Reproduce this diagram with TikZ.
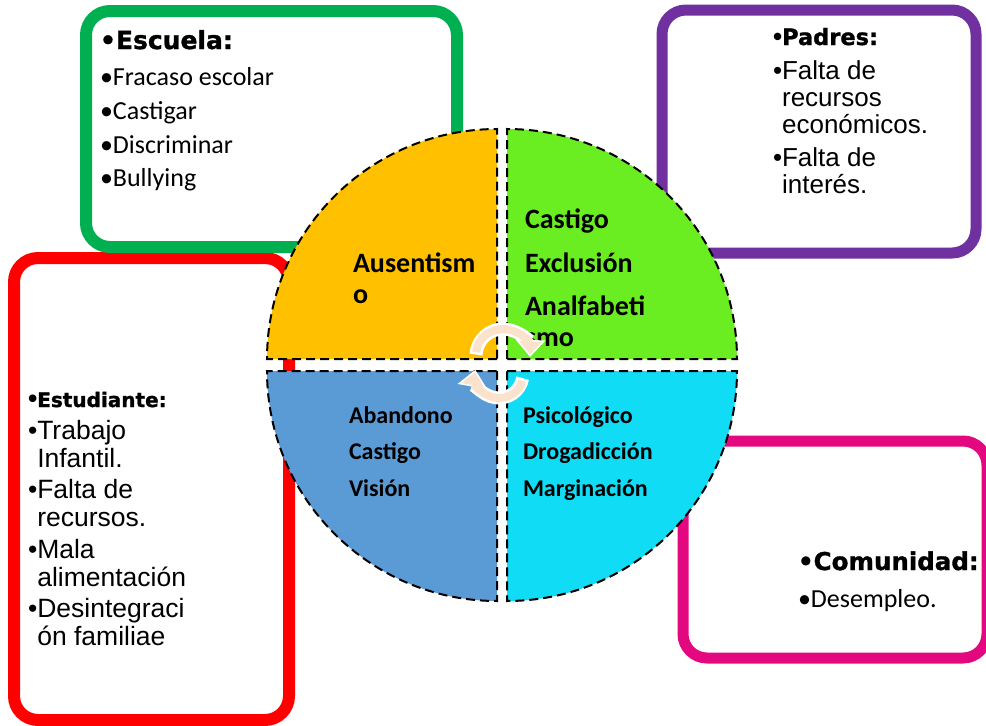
\documentclass[tikz,border=0pt]{standalone}
\usepackage{fontspec}
\setmainfont{Liberation Sans}
\newfontfamily\calfont{Carlito}
\newfontfamily\hdrfont{DejaVu Sans}[BoldFeatures={FakeBold=1.3}]
\usetikzlibrary{arrows.meta,calc}
\definecolor{cgreen}{HTML}{00B050}
\definecolor{cred}{HTML}{FF0000}
\definecolor{cpurple}{HTML}{7030A0}
\definecolor{cpink}{HTML}{E3087F}
\definecolor{qorange}{HTML}{FFC000}
\definecolor{qgreen}{HTML}{6AEE22}
\definecolor{qblue}{HTML}{5B9BD5}
\definecolor{qcyan}{HTML}{10DCF5}
\definecolor{peach}{HTML}{FAE2CC}
\begin{document}
\begin{tikzpicture}[x=1pt,y=-1pt,
  box/.style={draw, rounded corners=24pt, line width=12pt, fill=white, inner sep=0pt, outer sep=0pt},
  quad/.style={draw=black, line width=2pt, dash pattern=on 9pt off 5pt},
  txt/.style={anchor=base west, inner sep=0pt, outer sep=0pt, align=left},
  arrowout/.style={white, line width=13pt, -{Triangle[length=17pt,width=29pt]}},
  arrowin/.style={peach, line width=8pt, shorten >=2.5pt, shorten <=2.5pt, -{Triangle[length=13pt,width=22pt]}},
]
\useasboundingbox (0,0) rectangle (986,726);

% boxes
\node[box, draw=cred, minimum width=275pt, minimum height=462pt] (estbox) at (151.5,489) {};
\node[box, draw=cgreen, minimum width=371pt, minimum height=236pt] (escbox) at (271.5,129) {};
\node[box, draw=cpurple, line width=11pt, minimum width=314pt, minimum height=243pt] (padbox) at (819,131.5) {};
\node[box, draw=cpink, line width=11pt, minimum width=304pt, minimum height=217pt] (combox) at (835,549.5) {};

% quadrants
\path[quad, fill=qorange] (497,359) -- ++(-230,0) arc (180:270:230) -- cycle;
\path[quad, fill=qgreen] (507,359) -- ++(0,-230) arc (270:360:230) -- cycle;
\path[quad, fill=qcyan] (507,371) -- ++(230,0) arc (0:90:230) -- cycle;
\path[quad, fill=qblue] (497,371) -- ++(0,230) arc (90:180:230) -- cycle;

% box texts
\node[txt] (escuela) at (100,49) {\calfont\fontsize{26}{33.7}\selectfont
  \begin{tabular}[t]{@{}l@{}}
  {\hdrfont\bfseries\fontsize{25}{33.7}\selectfont \textbullet Escuela:}\\[3pt]
  •Fracaso escolar\\
  •Castigar\\
  •Discriminar\\
  •Bullying
  \end{tabular}};

\node[txt] (padres) at (773,45) {\fontsize{26}{27}\selectfont
  \begin{tabular}[t]{@{}l@{}}
  {\bfseries •}{\hdrfont\bfseries\fontsize{22.5}{27}\selectfont Padres:}\\[7pt]
  •Falta de\\
  \hphantom{•}recursos\\
  \hphantom{•}económicos.\\[6pt]
  •Falta de\\
  \hphantom{•}interés.
  \end{tabular}};

\node[txt] (estudiante) at (28,407) {\fontsize{26.5}{28}\selectfont
  \begin{tabular}[t]{@{}l@{}}
  {\bfseries •}{\hdrfont\bfseries\fontsize{20}{28}\selectfont Estudiante:}\\[4pt]
  •Trabajo\\
  \hphantom{•}Infantil.\\[3.5pt]
  •Falta de\\
  \hphantom{•}recursos.\\[3.5pt]
  •Mala\\
  \hphantom{•}alimentación\\[3.5pt]
  •Desintegraci\\
  \hphantom{•}ón familiae
  \end{tabular}};

\node[txt] (comunidad) at (798,570) {\calfont\fontsize{26}{37}\selectfont
  \begin{tabular}[t]{@{}l@{}}
  {\hdrfont\bfseries\fontsize{24.5}{37}\selectfont \textbullet Comunidad:}\\
  •Desempleo.
  \end{tabular}};

% quadrant texts
\node[txt] (tl) at (353,272) {\calfont\bfseries\fontsize{28}{31}\selectfont
  \begin{tabular}[t]{@{}l@{}}Ausentism\\o\end{tabular}};
\node[txt] (tr) at (525,228) {\calfont\bfseries\fontsize{28}{31}\selectfont
  \begin{tabular}[t]{@{}l@{}}Castigo\\[13pt]Exclusión\\[12pt]Analfabeti\\smo\end{tabular}};
\node[txt] (bl) at (349,423) {\calfont\bfseries\fontsize{24}{36.5}\selectfont
  \begin{tabular}[t]{@{}l@{}}Abandono\\Castigo\\Visión\end{tabular}};
\node[txt] (br) at (523,423) {\calfont\bfseries\fontsize{24}{36.5}\selectfont
  \begin{tabular}[t]{@{}l@{}}Psicológico\\Drogadicción\\Marginación\end{tabular}};

% cycle arrows
\coordinate (a1) at ($(503,356)+(183:27)$);
\coordinate (a2) at ($(499,374)+(10:24)$);
\draw[arrowout] (a1) arc (183:362:27);
\draw[arrowin] (a1) arc (183:362:27);
\draw[arrowout] (a2) arc (10:190:24);
\draw[arrowin] (a2) arc (10:190:24);
\end{tikzpicture}
\end{document}
